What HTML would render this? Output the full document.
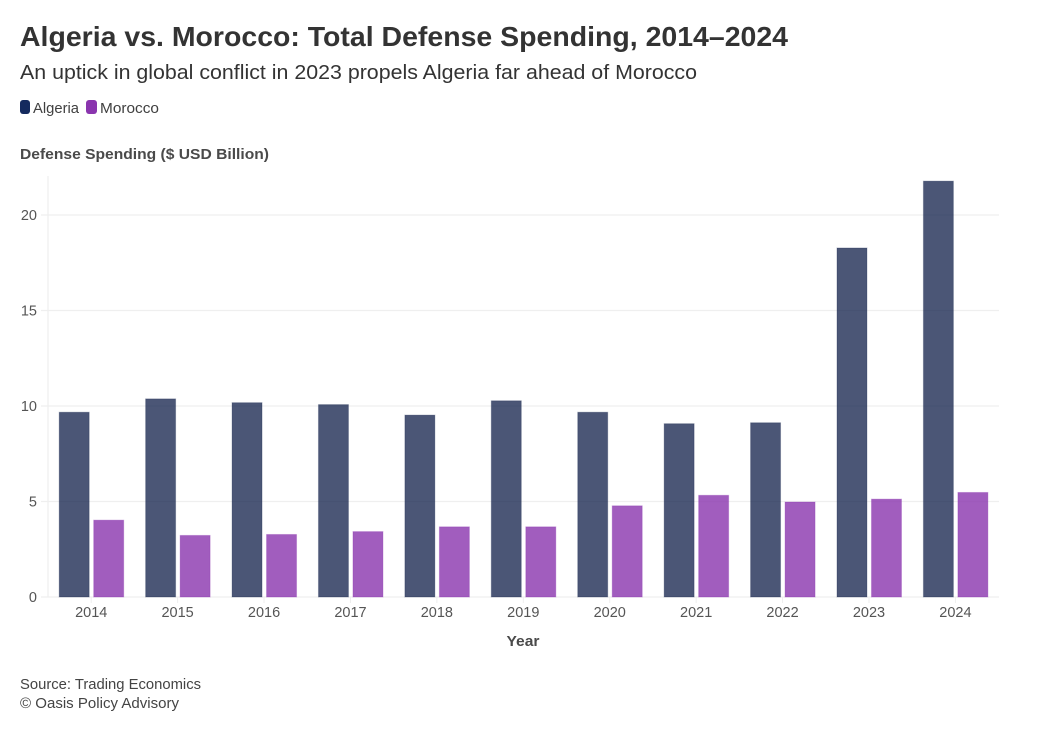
<!DOCTYPE html>
<html lang="en">
<head>
<meta charset="utf-8">
<title>Algeria vs. Morocco: Total Defense Spending, 2014–2024</title>
<style>
html,body{margin:0;padding:0;background:#fff;width:1038px;height:730px;overflow:hidden}
svg{display:block;font-family:"Liberation Sans",sans-serif}
</style>
</head>
<body>
<svg id="chart" width="1038" height="730" viewBox="0 0 1038 730" xmlns="http://www.w3.org/2000/svg">
  <text x="20" y="46" font-size="28" font-weight="700" fill="#333333" textLength="768" lengthAdjust="spacingAndGlyphs">Algeria vs. Morocco: Total Defense Spending, 2014–2024</text>
  <text x="20" y="79" font-size="20" fill="#333333" textLength="677" lengthAdjust="spacingAndGlyphs">An uptick in global conflict in 2023 propels Algeria far ahead of Morocco</text>

  <g>
    <rect x="20" y="100" width="10" height="14" rx="3" fill="#152a5e"/>
    <text x="33" y="113" font-size="14.5" fill="#404040" textLength="46" lengthAdjust="spacingAndGlyphs">Algeria</text>
    <rect x="86" y="100" width="11" height="14" rx="3" fill="#8a35ae"/>
    <text x="100" y="113" font-size="14.5" fill="#404040" textLength="59" lengthAdjust="spacingAndGlyphs">Morocco</text>
  </g>

  <text x="20" y="159" font-size="14.5" font-weight="700" fill="#4a4a4a" textLength="249" lengthAdjust="spacingAndGlyphs">Defense Spending ($ USD Billion)</text>

  <g id="grid"></g>
  <g id="bars"></g>
  <g id="axes"></g>

  <text x="523" y="646" font-size="14.5" font-weight="700" fill="#4a4a4a" text-anchor="middle" textLength="33" lengthAdjust="spacingAndGlyphs">Year</text>
  <text x="20" y="689" font-size="14.5" fill="#444444" textLength="181" lengthAdjust="spacingAndGlyphs">Source: Trading Economics</text>
  <text x="20" y="708" font-size="14.5" fill="#444444" textLength="159" lengthAdjust="spacingAndGlyphs">© Oasis Policy Advisory</text>
</svg>
<script>
const years = ['2014','2015','2016','2017','2018','2019','2020','2021','2022','2023','2024'];
const algeria = [9.7,10.4,10.2,10.1,9.55,10.3,9.7,9.1,9.15,18.3,21.8];
const morocco = [4.05,3.25,3.3,3.45,3.7,3.7,4.8,5.35,5.0,5.15,5.5];
const yTicks = [0,5,10,15,20];

const NS = 'http://www.w3.org/2000/svg';
const plotLeft = 48, plotRight = 999, plotTop = 176, plotBottom = 597;
const pxPerUnit = 19.1;
const firstCenter = 91.2, step = 86.42;
const barWidth = 30, barOffset = 2;

function yScale(v){ return plotBottom - v * pxPerUnit; }
function xCenter(i){ return firstCenter + i * step; }

function make(tag, attrs, parent){
  const el = document.createElementNS(NS, tag);
  for (const k in attrs) el.setAttribute(k, attrs[k]);
  parent.appendChild(el);
  return el;
}

const grid = document.getElementById('grid');
const bars = document.getElementById('bars');
const axes = document.getElementById('axes');

const yDomain = make('line', {x1:plotLeft, x2:plotLeft, y1:plotTop, y2:plotBottom, stroke:'#f2f2f2', 'stroke-width':1.5}, grid);



yTicks.forEach(function(t){
  const y = yScale(t);
  const line = make('line', {x1:41, x2:plotRight, y1:y, y2:y, stroke:'#efefef', 'stroke-width':1.2}, grid);
  
  
  const label = make('text', {x:37, y:y + 5, 'font-size':14.5, fill:'#555555', 'text-anchor':'end'}, axes);
  
  
  label.textContent = t;
});

years.forEach(function(year, i){
  const c = xCenter(i);
  const tick = make('line', {x1:c, x2:c, y1:plotBottom, y2:plotBottom + 6, stroke:'#eeeeee', 'stroke-width':1}, axes);
  
  

  const label = make('text', {x:c, y:617, 'font-size':14.5, fill:'#555555', 'text-anchor':'middle'}, axes);
  
  
  label.textContent = year;

  const ya = yScale(algeria[i]) + 0.5;
  const barA = make('rect', {x:c - barOffset - barWidth, y:ya, width:barWidth, height:plotBottom - ya, fill:'#0f1e48', 'fill-opacity':0.75, stroke:'#0f1e48', 'stroke-opacity':0.25, 'stroke-width':1}, bars);
  
  

  const ym = yScale(morocco[i]) + 0.5;
  const barM = make('rect', {x:c + barOffset + 0.5, y:ym, width:barWidth, height:plotBottom - ym, fill:'#8a35ae', 'fill-opacity':0.8, stroke:'#8a35ae', 'stroke-opacity':0.3, 'stroke-width':1}, bars);
  
  
});
</script>
</body>
</html>
